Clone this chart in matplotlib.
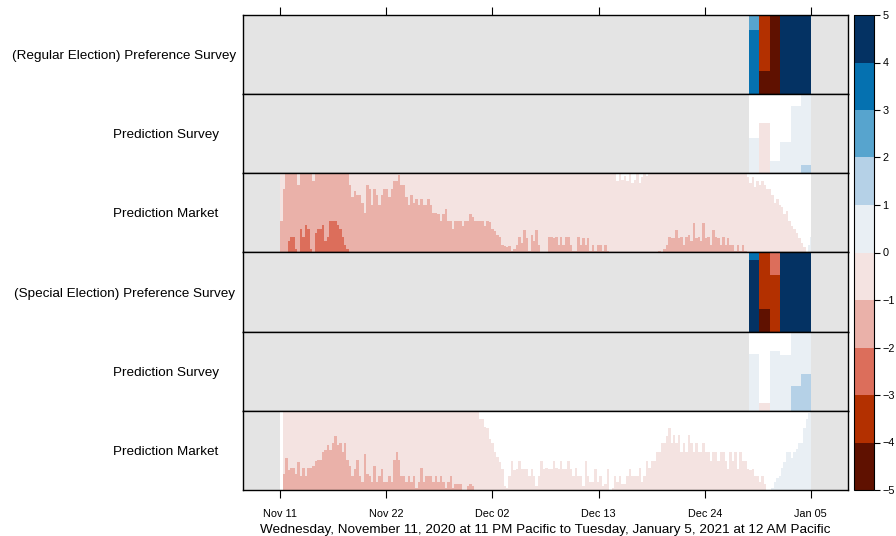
import numpy as np
import matplotlib
matplotlib.use("Agg")
import matplotlib.pyplot as plt
from matplotlib.colors import ListedColormap, BoundaryNorm
from matplotlib.cm import ScalarMappable

plt.rcParams['font.family'] = ['Liberation Sans', 'DejaVu Sans']

# time axis: hours since Wed Nov 11 2020, 11 PM Pacific
END_HOUR = 1297
MARKET_STEP = 6

# prediction markets, one value every 6 hours (4 per line = 1 day)
regular_market = [
    -1.4, -1.8, -2.0, -2.15,
    -2.2, -2.2, -2.05, -1.85,
    -2.3, -2.2, -2.35, -2.3,
    -2.05, -1.9, -2.25, -2.3,
    -2.3, -2.35, -2.15, -2.2,
    -2.4, -2.4, -2.4, -2.35,
    -2.3, -2.2, -2.1, -2.05,
    -1.85, -1.7, -1.78, -1.72,
    -1.72, -1.62, -1.5, -1.85,
    -1.8, -1.6, -1.8, -1.72,
    -1.6, -1.72, -1.8, -1.8,
    -1.7, -1.8, -1.9, -1.9,
    -1.98, -1.85, -1.85, -1.7,
    -1.6, -1.72, -1.62, -1.68,
    -1.6, -1.68, -1.6, -1.6,
    -1.68, -1.6, -1.5, -1.5,
    -1.48, -1.4, -1.48, -1.55,
    -1.4, -1.4, -1.3, -1.4,
    -1.4, -1.4, -1.33, -1.4,
    -1.4, -1.48, -1.45, -1.4,
    -1.4, -1.4, -1.4, -1.33,
    -1.4, -1.38, -1.3, -1.27,
    -1.22, -1.2, -1.1, -1.08,
    -1.07, -1.08, -1.02, -1.05,
    -1.1, -1.2, -1.12, -1.28,
    -1.18, -1.02, -1.22, -1.15,
    -1.28, -1.1, -1.0, -1.0,
    -1.0, -1.2, -1.2, -1.18,
    -1.2, -1.1, -1.2, -1.1,
    -1.2, -1.2, -1.1, -1.02,
    -1.02, -1.2, -1.1, -1.18,
    -1.1, -1.18, -1.02, -1.1,
    -1.02, -1.1, -1.1, -1.02,
    -1.1, -1.02, -1.0, -0.99,
    -1.0, -0.9, -0.99, -0.92,
    -0.97, -0.9, -1.0, -0.88,
    -0.92, -1.0, -0.88, -0.95,
    -1.0, -0.97, -1.0, -0.99,
    -1.0, -1.0, -1.02, -1.0,
    -1.05, -1.1, -1.2, -1.18,
    -1.18, -1.28, -1.18, -1.2,
    -1.1, -1.2, -1.22, -1.14,
    -1.37, -1.18, -1.2, -1.14,
    -1.37, -1.18, -1.2, -1.1,
    -1.28, -1.2, -1.18, -1.1,
    -1.2, -1.1, -1.18, -1.1,
    -1.1, -1.02, -1.1, -1.02,
    -1.1, -1.02, -0.95, -0.88,
    -0.95, -0.83, -0.9, -0.85,
    -0.9, -0.85, -0.8, -0.8,
    -0.72, -0.62, -0.68, -0.6,
    -0.57, -0.48, -0.52, -0.4,
    -0.33, -0.3, -0.25, -0.18,
    -0.12, -0.07, -0.01, 0.1,
    0.2,
]

special_market = [
    0.0, -1.2, -1.4, -1.25,
    -1.28, -1.28, -1.2, -1.35,
    -1.18, -1.28, -1.18, -1.28,
    -1.28, -1.3, -1.37, -1.38,
    -1.38, -1.48, -1.5, -1.57,
    -1.5, -1.59, -1.68, -1.57,
    -1.59, -1.48, -1.59, -1.38,
    -1.3, -1.18, -1.27, -1.38,
    -1.18, -1.1, -1.46, -1.2,
    -1.18, -1.1, -1.3, -1.1,
    -1.18, -1.27, -1.1, -1.1,
    -1.18, -1.1, -1.38, -1.48,
    -1.38, -1.18, -1.18, -1.1,
    -1.18, -1.1, -1.18, -1.02,
    -1.1, -1.28, -1.1, -1.18,
    -1.18, -1.18, -1.1, -1.18,
    -1.1, -1.18, -1.1, -1.02,
    -1.1, -1.18, -1.02, -1.08,
    -1.08, -1.08, -1.0, -1.0,
    -1.05, -1.08, -1.05, -1.0,
    -0.98, -0.9, -0.9, -0.8,
    -0.78, -0.65, -0.6, -0.48,
    -0.42, -0.35, -0.27, -0.05,
    -0.02, -0.18, -0.37, -0.25,
    -0.27, -0.37, -0.27, -0.27,
    -0.27, -0.18, -0.27, -0.18,
    -0.05, -0.18, -0.37, -0.27,
    -0.28, -0.27, -0.27, -0.37,
    -0.28, -0.27, -0.37, -0.27,
    -0.27, -0.37, -0.27, -0.18,
    -0.28, -0.18, -0.18, -0.05,
    -0.37, -0.18, -0.1, -0.1,
    -0.27, -0.1, -0.18, -0.05,
    -0.08, -0.27, 0.0, -0.02,
    -0.18, -0.1, -0.18, -0.08,
    -0.08, -0.18, -0.27, -0.18,
    -0.18, -0.18, -0.28, -0.1,
    -0.18, -0.37, -0.28, -0.37,
    -0.37, -0.48, -0.48, -0.59,
    -0.59, -0.68, -0.78, -0.59,
    -0.7, -0.59, -0.7, -0.48,
    -0.59, -0.48, -0.7, -0.59,
    -0.48, -0.59, -0.48, -0.48,
    -0.59, -0.48, -0.48, -0.37,
    -0.48, -0.48, -0.37, -0.48,
    -0.48, -0.37, -0.27, -0.48,
    -0.37, -0.48, -0.27, -0.48,
    -0.37, -0.37, -0.27, -0.25,
    -0.27, -0.18, -0.18, -0.1,
    -0.18, -0.08, 0.0, 0.0,
    0.02, 0.1, 0.15, 0.18,
    0.28, 0.35, 0.48, 0.48,
    0.4, 0.48, 0.52, 0.59,
    0.6, 0.78, 0.9, 0.97,
    0.98,
]

# surveys: hour each result starts, held until the next one
survey_hours = [1145, 1170, 1197, 1222, 1248, 1273]
regular_pref = [3.81, -4.29, -5.0, 5.0, 5.0, 5.0]
regular_pred = [0.45, -0.64, 0.15, 0.39, 0.85, 1.1]
special_pref = [4.91, -4.29, -3.71, 5.0, 5.0, 5.0]
special_pred = [0.72, -0.1, 0.75, 0.71, 1.32, 1.46]

row_labels = ['(Regular Election) Preference Survey', 'Prediction Survey', 'Prediction Market',
              '(Special Election) Preference Survey', 'Prediction Survey', 'Prediction Market']
tick_labels = ['Nov 11', 'Nov 22', 'Dec 02', 'Dec 13', 'Dec 24', 'Jan 05']
xlabel = ('Wednesday, November 11, 2020 at 11 PM Pacific to '
          'Tuesday, January 5, 2021 at 12 AM Pacific')

pos_colors = ['#e9eff4', '#b5d1e7', '#57a4ce', '#0571b0', '#043263']
neg_colors = ['#f4e3e1', '#eab1a9', '#dc6e5b', '#b33000', '#5f1100']
panel_bg = '#e4e4e4'

market_edges = np.append(np.arange(len(regular_market)) * MARKET_STEP, END_HOUR)
survey_edges = np.append(survey_hours, END_HOUR)

series = [
    (survey_edges, regular_pref),
    (survey_edges, regular_pred),
    (market_edges, regular_market),
    (survey_edges, special_pref),
    (survey_edges, special_pred),
    (market_edges, special_market),
]


def horizon(ax, edges, values):
    v = np.asarray(values, dtype=float)
    ax.stairs(np.ones_like(v), edges, baseline=0, fill=True, color='white', lw=0)
    for k in range(5):
        ax.stairs(np.clip(v - k, 0, 1), edges, baseline=0, fill=True,
                  color=pos_colors[k], lw=0)
        ax.stairs(np.clip(-v - k, 0, 1), edges, baseline=0, fill=True,
                  color=neg_colors[k], lw=0)


W, H = 896, 536
fig = plt.figure(figsize=(W / 100, H / 100), dpi=100)

left, right, top, bottom = 243, 848, 15, 490
row_h = (bottom - top) / len(series)
pad = 0.07 * END_HOUR
ticks = np.linspace(0, END_HOUR, len(tick_labels))

for i, (edges, vals) in enumerate(series):
    y0 = top + i * row_h
    ax = fig.add_axes([left / W, 1 - (y0 + row_h) / H, (right - left) / W, row_h / H])
    ax.set_facecolor(panel_bg)
    horizon(ax, edges, vals)
    ax.set_xlim(-pad, END_HOUR + pad)
    ax.set_ylim(0, 1)
    ax.set_yticks([])
    ax.set_xticks(ticks)
    ax.tick_params(axis='x', direction='out', length=5.5, width=0.8,
                   top=(i == 0), bottom=(i == len(series) - 1),
                   labeltop=False, labelbottom=(i == len(series) - 1),
                   labelsize=7.8, pad=8.5)
    ax.set_xticklabels(tick_labels)
    for s in ax.spines.values():
        s.set_linewidth(1.0)
        s.set_color('black')
    fig.text(166 / W if i % 3 else 124.5 / W, 1 - (y0 + row_h / 2 + 1.5) / H,
             row_labels[i], ha='center', va='center', fontsize=9.7)

fig.text((left + right) / 2 / W, 1 - 533.5 / H, xlabel, ha='center', va='baseline',
         fontsize=9.7)

# colour key
cmap = ListedColormap(neg_colors[::-1] + pos_colors)
norm = BoundaryNorm(np.arange(-5, 6), cmap.N)
cax = fig.add_axes([854 / W, 1 - bottom / H, 20 / W, (bottom - top) / H])
cb = fig.colorbar(ScalarMappable(norm=norm, cmap=cmap), cax=cax, ticks=np.arange(-5, 6))
cb.outline.set_linewidth(0.8)
cax.tick_params(direction='out', length=4, width=0.8, labelsize=7.8, pad=2)

fig.savefig('out.png', dpi=100)
